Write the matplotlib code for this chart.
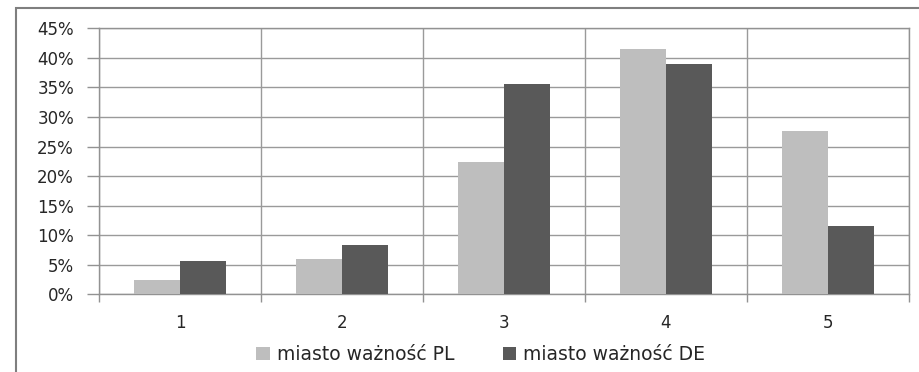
import matplotlib.pyplot as plt
import matplotlib.patches as patches
import numpy as np

# Data
categories = ["1", "2", "3", "4", "5"]
pl_values = [2.5, 5.9, 22.4, 41.5, 27.7]
de_values = [5.7, 8.4, 35.5, 38.9, 11.6]
series_names = ["miasto ważność PL", "miasto ważność DE"]
y_ticks = [0, 5, 10, 15, 20, 25, 30, 35, 40, 45]

plt.rcParams['font.family'] = ['DejaVu Sans']

fig = plt.figure(figsize=(9.19, 3.72), dpi=100)
ax = fig.add_axes([0.1077, 0.2089, 0.989 - 0.1077, 0.924 - 0.2089])

x = np.arange(1, len(categories) + 1)
w = 0.284
ax.bar(x - w / 2, pl_values, w, color="#BEBEBE", label=series_names[0], zorder=3)
ax.bar(x + w / 2, de_values, w, color="#595959", label=series_names[1], zorder=3)

# Axes limits and grid
ax.set_xlim(0.5, 5.5)
ax.set_ylim(0, 45)
ax.set_yticks(y_ticks)
ax.set_yticklabels([f"{v}%" for v in y_ticks], fontsize=12, color="#262626")
ax.tick_params(axis="y", length=9, width=1, color="#929292", pad=9)

# category boundaries as major ticks, labels on minor ticks
ax.set_xticks(np.arange(0.5, 6.0, 1.0))
ax.set_xticklabels([])
ax.set_xticks(x, minor=True)
ax.set_xticklabels(categories, minor=True, fontsize=12, color="#262626")
ax.tick_params(axis="x", which="major", length=6, width=1, color="#929292")
ax.tick_params(axis="x", which="minor", length=0, pad=14)

ax.grid(True, which="major", color="#9A9A9A", linewidth=1, zorder=0)
for s in ax.spines.values():
    s.set_color("#929292")
    s.set_linewidth(1)

# outer chart frame
frame = patches.Rectangle((16 / 919, -0.05), 1.0, 1 - 8 / 372 + 0.05,
                          transform=fig.transFigure, fill=False,
                          edgecolor="#7F7F7F", linewidth=1.5, clip_on=False)
fig.patches.append(frame)

fig.legend(loc="center", bbox_to_anchor=(0.523, 0.048), ncol=2, frameon=False,
           fontsize=13.5, handlelength=0.7, handleheight=0.7, handletextpad=0.37,
           columnspacing=2.6, labelcolor="#262626")

fig.savefig("out.png", dpi=100)
